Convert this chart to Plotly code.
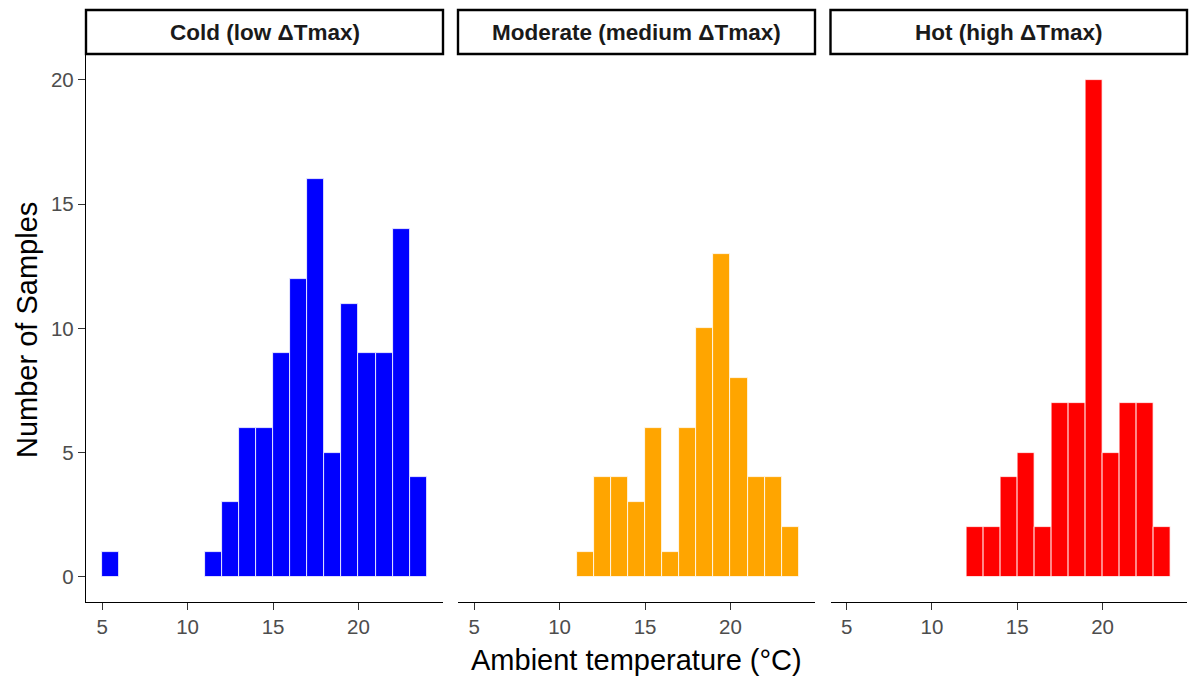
import plotly.graph_objects as go

# Data
panel_titles = ["Cold (low ΔTmax)", "Moderate (medium ΔTmax)", "Hot (high ΔTmax)"]
colors = ["#0000FF", "#FFA500", "#FF0000"]

cold_x = [5.5, 11.5, 12.5, 13.5, 14.5, 15.5, 16.5, 17.5, 18.5, 19.5, 20.5, 21.5, 22.5, 23.5]
cold_y = [1, 1, 3, 6, 6, 9, 12, 16, 5, 11, 9, 9, 14, 4]

mod_x = [11.5, 12.5, 13.5, 14.5, 15.5, 16.5, 17.5, 18.5, 19.5, 20.5, 21.5, 22.5, 23.5]
mod_y = [1, 4, 4, 3, 6, 1, 6, 10, 13, 8, 4, 4, 2]

hot_x = [12.5, 13.5, 14.5, 15.5, 16.5, 17.5, 18.5, 19.5, 20.5, 21.5, 22.5, 23.5]
hot_y = [2, 2, 4, 5, 2, 7, 7, 20, 5, 7, 7, 2]

x_ticks = [5, 10, 15, 20]
y_ticks = [0, 5, 10, 15, 20]

W, H = 1191, 678
xdoms = [(86 / W, 443 / W), (458 / W, 815 / W), (830.5 / W, 1187 / W)]
ydom = ((678 - 601.7) / H, (678 - 55) / H)
strip_y = ((678 - 54) / H, (678 - 10) / H)

FONT = "Liberation Sans, Arial, sans-serif"

fig = go.Figure()
series = [(cold_x, cold_y), (mod_x, mod_y), (hot_x, hot_y)]
for i, (xs, ys) in enumerate(series):
    ax = "" if i == 0 else str(i + 1)
    fig.add_trace(go.Bar(
        x=xs, y=ys, width=1,
        marker=dict(color=colors[i], line=dict(color="white", width=0.8)),
        xaxis="x" + ax, yaxis="y" + ax, showlegend=False,
    ))

layout = dict(
    width=W, height=H,
    margin=dict(l=0, r=0, t=0, b=0),
    paper_bgcolor="white", plot_bgcolor="white",
    font=dict(family=FONT, color="#4D4D4D"),
    bargap=0,
)
for i in range(3):
    ax = "" if i == 0 else str(i + 1)
    layout["xaxis" + ax] = dict(
        domain=list(xdoms[i]), range=[4.05, 24.95], anchor="y" + ax,
        tickvals=x_ticks, ticks="outside", ticklen=7, tickcolor="#333333", tickwidth=1.3,
        showline=True, linecolor="black", linewidth=1.3, showgrid=False, zeroline=False,
        tickfont=dict(size=20.5, color="#4D4D4D"),
    )
    layout["yaxis" + ax] = dict(
        domain=list(ydom), range=[-1, 21], anchor="x" + ax,
        tickvals=y_ticks, showgrid=False, zeroline=False,
        showline=(i == 0), linecolor="black", linewidth=1.3,
        ticks="outside" if i == 0 else "", ticklen=7, tickcolor="#333333", tickwidth=1.3,
        showticklabels=(i == 0),
        tickfont=dict(size=20.5, color="#4D4D4D"),
    )
fig.update_layout(**layout)

shapes = []
annotations = []
for i in range(3):
    shapes.append(dict(type="rect", xref="paper", yref="paper",
                       x0=xdoms[i][0], x1=xdoms[i][1], y0=strip_y[0], y1=strip_y[1],
                       line=dict(color="black", width=2.4), fillcolor="white"))
    annotations.append(dict(xref="paper", yref="paper",
                            x=(xdoms[i][0] + xdoms[i][1]) / 2, y=(strip_y[0] + strip_y[1]) / 2,
                            text="<b>" + panel_titles[i] + "</b>", showarrow=False,
                            font=dict(size=22.5, color="#1A1A1A", family=FONT),
                            xanchor="center", yanchor="middle"))
annotations.append(dict(xref="paper", yref="paper", x=(86 + 1187) / 2 / W, y=(678 - 660) / H,
                        text="Ambient temperature (°C)", showarrow=False,
                        font=dict(size=29, color="black", family=FONT),
                        xanchor="center", yanchor="middle"))
annotations.append(dict(xref="paper", yref="paper", x=27 / W, y=(678 - 330) / H,
                        text="Number of Samples", showarrow=False, textangle=-90,
                        font=dict(size=29, color="black", family=FONT),
                        xanchor="center", yanchor="middle"))
fig.update_layout(shapes=shapes, annotations=annotations)

fig.write_html("out.html")
